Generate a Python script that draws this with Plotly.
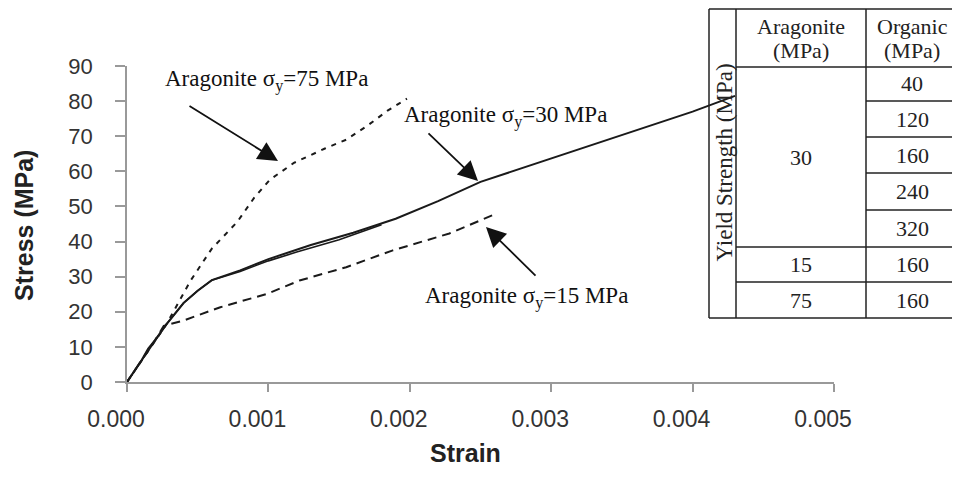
import plotly.graph_objects as go

# ---------------- data ----------------
x_a30_long = [0, 0.00005, 0.0001, 0.00015, 0.0002, 0.00028, 0.0004, 0.0005, 0.0006, 0.0008, 0.001,
              0.0013, 0.0016, 0.0019, 0.0022, 0.0025, 0.0028, 0.0031, 0.0034, 0.0037, 0.0040, 0.0043]
y_a30_long = [0, 3, 6, 9.5, 12, 16.5, 22.5, 26, 29, 31.8, 35,
              39, 42.5, 46.5, 51.5, 57, 61, 65, 69, 73, 77, 81.5]

x_a30_short = [0, 0.0001, 0.0002, 0.00028, 0.0004, 0.0005, 0.0006, 0.0008, 0.001, 0.0012, 0.0015, 0.0018]
y_a30_short = [0, 6, 12, 16.5, 22.5, 26, 29, 31.5, 34.5, 37, 40.5, 44.8]

x_a75 = [0, 0.0001, 0.0002, 0.00028, 0.00045, 0.0006, 0.00078, 0.0009, 0.00101, 0.00118,
         0.0014, 0.00155, 0.0017, 0.00184, 0.00198]
y_a75 = [0, 6, 12, 16.5, 28.9, 38, 45.6, 52.5, 57.6, 62.4, 66.5, 69, 73, 77.2, 80.7]

x_a15 = [0, 0.0001, 0.0002, 0.00026, 0.0004, 0.00066, 0.00099, 0.00122, 0.00155, 0.00188, 0.00228, 0.00259]
y_a15 = [0, 6, 12, 16, 17.5, 21.3, 25.1, 28.9, 32.7, 37.5, 42.3, 47.6]

x_ticks = [0, 0.001, 0.002, 0.003, 0.004, 0.005]
y_ticks = [0, 10, 20, 30, 40, 50, 60, 70, 80, 90]

table_arag_header = ["Aragonite", "(MPa)"]
table_org_header = ["Organic", "(MPa)"]
table_arag = ["30", "15", "75"]
table_org = ["40", "120", "160", "240", "320", "160", "160"]

labels = ["Aragonite σ<sub>y</sub>=75 MPa", "Aragonite σ<sub>y</sub>=30 MPa", "Aragonite σ<sub>y</sub>=15 MPa"]

# ---------------- layout geometry (window pixels) ----------------
OFF = 8                      # page body margin
W, H = 960 - OFF, 477 - OFF  # figure size
X0, X1 = 127, 834            # plot area in window pixels
Y0, Y1 = 66, 382
L, T = X0 - OFF, Y0 - OFF
R, B = (W + OFF) - X1, (H + OFF) - Y1
PW, PH = X1 - X0, Y1 - Y0

def px(xp):
    return (xp - X0) / PW

def py(yp):
    return (Y1 - yp) / PH

def dx(xp):
    return (xp - X0) / PW * 0.005

def dy(yp):
    return (Y1 - yp) / PH * 90

LINE = "#1a1a1a"
SANS = "Liberation Sans, Arial, sans-serif"
SERIF = "Liberation Serif, Times New Roman, serif"

fig = go.Figure()
fig.add_trace(go.Scatter(x=x_a30_short, y=y_a30_short, mode="lines",
                         line=dict(color=LINE, width=1.6), showlegend=False))
fig.add_trace(go.Scatter(x=x_a30_long, y=y_a30_long, mode="lines",
                         line=dict(color=LINE, width=2), showlegend=False))
fig.add_trace(go.Scatter(x=x_a75, y=y_a75, mode="lines",
                         line=dict(color=LINE, width=2, dash="5px,6px"), showlegend=False))
fig.add_trace(go.Scatter(x=x_a15, y=y_a15, mode="lines",
                         line=dict(color=LINE, width=2, dash="9px,6px"), showlegend=False))

ann = []
arrow_specs = [
    (labels[0], (266, 80), (188, 105), (278, 161)),
    (labels[1], (505, 116), (427, 132), (478, 181)),
    (labels[2], (526, 297), (537, 277), (486, 227)),
]
for text, (tx, ty), (ax_, ay_), (hx, hy) in arrow_specs:
    ann.append(dict(x=dx(tx), y=dy(ty), xref="x", yref="y", text=text, showarrow=False,
                    xanchor="center", yanchor="middle",
                    font=dict(family=SERIF, size=23, color="#111")))
    ann.append(dict(x=dx(hx), y=dy(hy), ax=dx(ax_), ay=dy(ay_), axref="x", ayref="y",
                    xref="x", yref="y", text="", showarrow=True, arrowhead=2,
                    arrowsize=2.2, arrowwidth=1.8, arrowcolor="#111"))

ann.append(dict(x=px(465), y=py(453), xref="paper", yref="paper", text="<b>Strain</b>",
                xanchor="center", yanchor="middle",
                showarrow=False, font=dict(family=SANS, size=25, color="#222")))
ann.append(dict(x=px(24), y=py(226), xref="paper", yref="paper", text="<b>Stress (MPa)</b>",
                xanchor="center", yanchor="middle",
                textangle=-90, showarrow=False, font=dict(family=SANS, size=25, color="#222")))

# ---------------- table ----------------
shapes = []
def hline(x0, x1, y):
    shapes.append(dict(type="line", xref="paper", yref="paper", x0=px(x0), x1=px(x1),
                       y0=py(y), y1=py(y), line=dict(color="#222", width=1.5)))
def vline(x, y0, y1):
    shapes.append(dict(type="line", xref="paper", yref="paper", x0=px(x), x1=px(x),
                       y0=py(y0), y1=py(y1), line=dict(color="#222", width=1.5)))

tl, tc1, tc2, tr = 709, 736, 866, 965
ty0, thead, tbot = 9, 67, 318
rows = [67, 101, 137, 173, 210, 247, 282, 318]
shapes.append(dict(type="rect", xref="paper", yref="paper", x0=px(tl), x1=px(tr),
                   y0=py(ty0), y1=py(tbot), fillcolor="white", line=dict(width=0), layer="below"))
hline(tl, tr, ty0)
hline(tl, tr, tbot)
vline(tl, ty0, tbot)
vline(tc1, ty0, tbot)
vline(tc2, ty0, tbot)
hline(tc1, tr, thead)
for yv in rows[1:5]:
    hline(tc2, tr, yv)
hline(tc1, tr, rows[5])
hline(tc1, tr, rows[6])

def tcell(x, y, text):
    ann.append(dict(x=px(x), y=py(y), xref="paper", yref="paper", text=text, showarrow=False,
                    xanchor="center", yanchor="middle",
                    font=dict(family=SERIF, size=22, color="#222")))

c2 = (tc1 + tc2) / 2
c3 = 912
tcell(c2, 26, table_arag_header[0])
tcell(c2, 51, table_arag_header[1])
tcell(c3, 26, table_org_header[0])
tcell(c3, 51, table_org_header[1])
for i, v in enumerate(table_org):
    tcell(c3, (rows[i] + rows[i + 1]) / 2, v)
tcell(c2, (rows[0] + rows[5]) / 2, table_arag[0])
tcell(c2, (rows[5] + rows[6]) / 2, table_arag[1])
tcell(c2, (rows[6] + rows[7]) / 2, table_arag[2])
ann.append(dict(x=px((tl + tc1) / 2 + 1), y=py(163), xref="paper", yref="paper",
                xanchor="center", yanchor="middle",
                text="Yield Strength (MPa)", textangle=-90, showarrow=False,
                font=dict(family=SERIF, size=23, color="#222")))

fig.update_layout(
    width=W, height=H, margin=dict(l=L, r=R, t=T, b=B, autoexpand=False),
    paper_bgcolor="white", plot_bgcolor="white",
    shapes=shapes, annotations=ann, showlegend=False,
    xaxis=dict(range=[0, 0.005], tickvals=x_ticks, tickformat=".3f", showgrid=False,
               zeroline=False, showline=True, linecolor="#999", linewidth=1.5,
               ticks="outside", ticklen=8, tickcolor="#999", tickwidth=1.5,
               ticklabelstandoff=8, ticklabelshift=-11,
               tickfont=dict(family=SANS, size=23, color="#333")),
    yaxis=dict(range=[0, 90], tickvals=y_ticks, showgrid=False, zeroline=False,
               showline=True, linecolor="#999", linewidth=1.5,
               ticks="outside", ticklen=10, tickcolor="#999", tickwidth=1.5,
               ticklabelstandoff=18,
               tickfont=dict(family=SANS, size=22, color="#333")),
)

fig.write_html("out.html")
